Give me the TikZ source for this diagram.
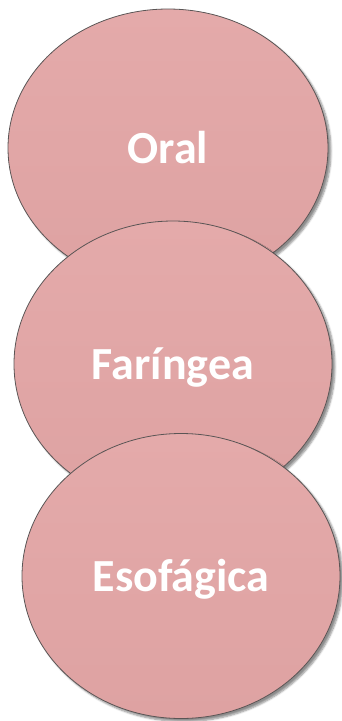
\documentclass[tikz,border=0pt]{standalone}
\usepackage{fontspec}
\setmainfont{Carlito}
\usetikzlibrary{shapes.geometric,shadows.blur}
\definecolor{petal}{RGB}{222,162,162}
\definecolor{petaltop}{RGB}{228,170,170}
\definecolor{rim}{RGB}{90,85,85}
\tikzset{
  phase/.style={ellipse, inner sep=0pt, draw=rim, line width=0.8pt,
    top color=petaltop, bottom color=petal,
    blur shadow={shadow xshift=3pt, shadow yshift=-3pt, shadow blur steps=6, shadow opacity=45},
    text height=30pt, text depth=0pt,
    font=\bfseries\fontsize{46}{50}\selectfont, text=white}
}
\begin{document}
\begin{tikzpicture}[x=1pt,y=-1pt]
\useasboundingbox (0,0) rectangle (341,721);
\node[phase, minimum width=320pt, minimum height=278pt] (oral) at (168,148) {Oral};
\node[phase, minimum width=318pt, minimum height=286pt] (far) at (173,364) {Faríngea};
\node[phase, minimum width=318pt, minimum height=285pt] (eso) at (181,576) {Esofágica};
\end{tikzpicture}
\end{document}
